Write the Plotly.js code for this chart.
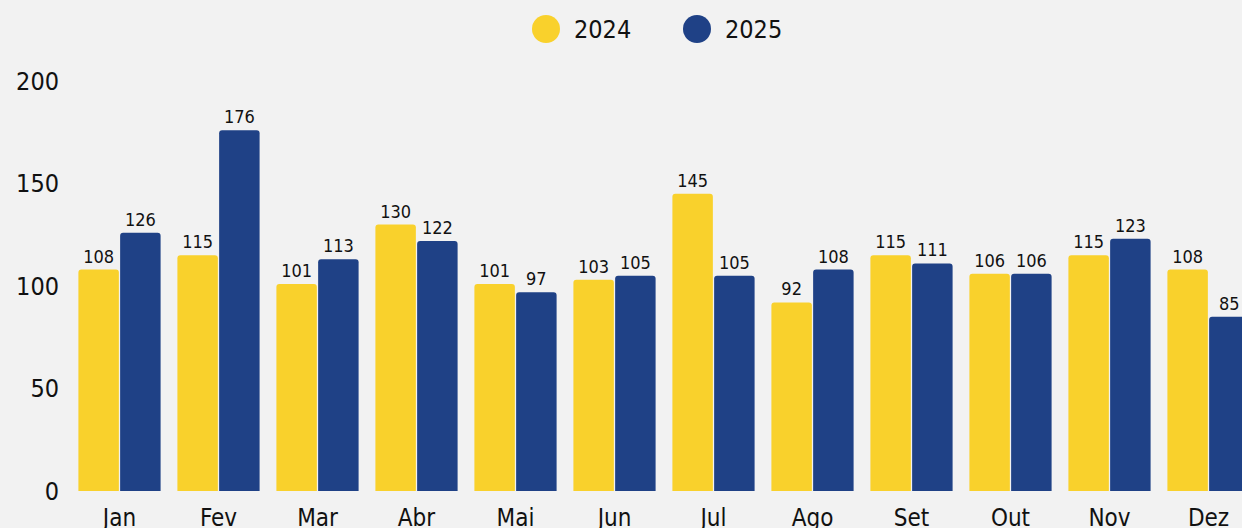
<!DOCTYPE html>
<html>
<head>
<meta charset="utf-8">
<script src="https://cdn.plot.ly/plotly-3.0.1.min.js"></script>
<style>
html,body{margin:0;padding:0;background:#f2f2f2;}
#chart{width:1242px;height:528px;}
</style>
</head>
<body>
<div id="chart"></div>
<script>
const months = ["Jan","Fev","Mar","Abr","Mai","Jun","Jul","Ago","Set","Out","Nov","Dez"];
const values2024 = [108,115,101,130,101,103,145,92,115,106,115,108];
const values2025 = [126,176,113,122,97,105,105,108,111,106,123,85];
const seriesNames = ["2024","2025"];
const colors = ["#F9D12C","#1F4186"];
const FONT = "'DejaVu Sans Condensed', 'Liberation Sans Narrow', sans-serif";

const L = 70, W = 1242, T = 81, B = 491;
const pw = W - L, ph = B - T;
const px2x = p => (p - L) / pw;
const py2y = p => (B - p) / ph;

const traces = [values2024, values2025].map((vals, i) => ({
  type: "bar",
  name: seriesNames[i],
  x: months,
  y: vals,
  marker: {color: colors[i]},
  text: vals.map(String),
  textposition: "outside",
  textfont: {family: FONT, size: 18, color: "#111"},
  constraintext: "none",
  cliponaxis: false,
  showlegend: false,
  hoverinfo: "x+y+name"
}));

const legendY = py2y(29);
const shapes = [
  {x: 546, c: colors[0]},
  {x: 697, c: colors[1]}
].map(s => ({
  type: "circle", xref: "paper", yref: "paper",
  xsizemode: "pixel", ysizemode: "pixel",
  xanchor: px2x(s.x), yanchor: legendY,
  x0: -14, x1: 14, y0: -14, y1: 14,
  fillcolor: s.c, line: {width: 0}
}));
const annotations = [
  {x: 572, t: seriesNames[0]},
  {x: 723, t: seriesNames[1]}
].map(a => ({
  xref: "paper", yref: "paper", x: px2x(a.x), y: legendY,
  xanchor: "left", yanchor: "middle", showarrow: false,
  text: a.t, font: {family: FONT, size: 25, color: "#111"}
}));

const layout = {
  width: 1242, height: 528,
  paper_bgcolor: "#f2f2f2", plot_bgcolor: "#f2f2f2",
  margin: {l: L, r: 0, t: T, b: 528 - B, pad: 0},
  barmode: "group",
  bargap: 0.157,
  bargroupgap: 0.03,
  barcornerradius: 3,
  font: {family: FONT, color: "#111"},
  xaxis: {
    range: [-0.5, -0.5 + pw / 99],
    showgrid: false, zeroline: false, showline: false,
    ticks: "outside", ticklen: 5, tickcolor: "rgba(0,0,0,0)",
    tickfont: {family: FONT, size: 24, color: "#111"},
    fixedrange: true
  },
  yaxis: {
    range: [0, 200],
    tickvals: [0, 50, 100, 150, 200],
    showgrid: false, zeroline: false, showline: false,
    ticks: "outside", ticklen: 5, tickcolor: "rgba(0,0,0,0)",
    tickfont: {family: FONT, size: 25, color: "#111"},
    fixedrange: true
  },
  shapes: shapes,
  annotations: annotations,
  showlegend: false
};

Plotly.newPlot("chart", traces, layout, {displayModeBar: false, staticPlot: true});
</script>
</body>
</html>
